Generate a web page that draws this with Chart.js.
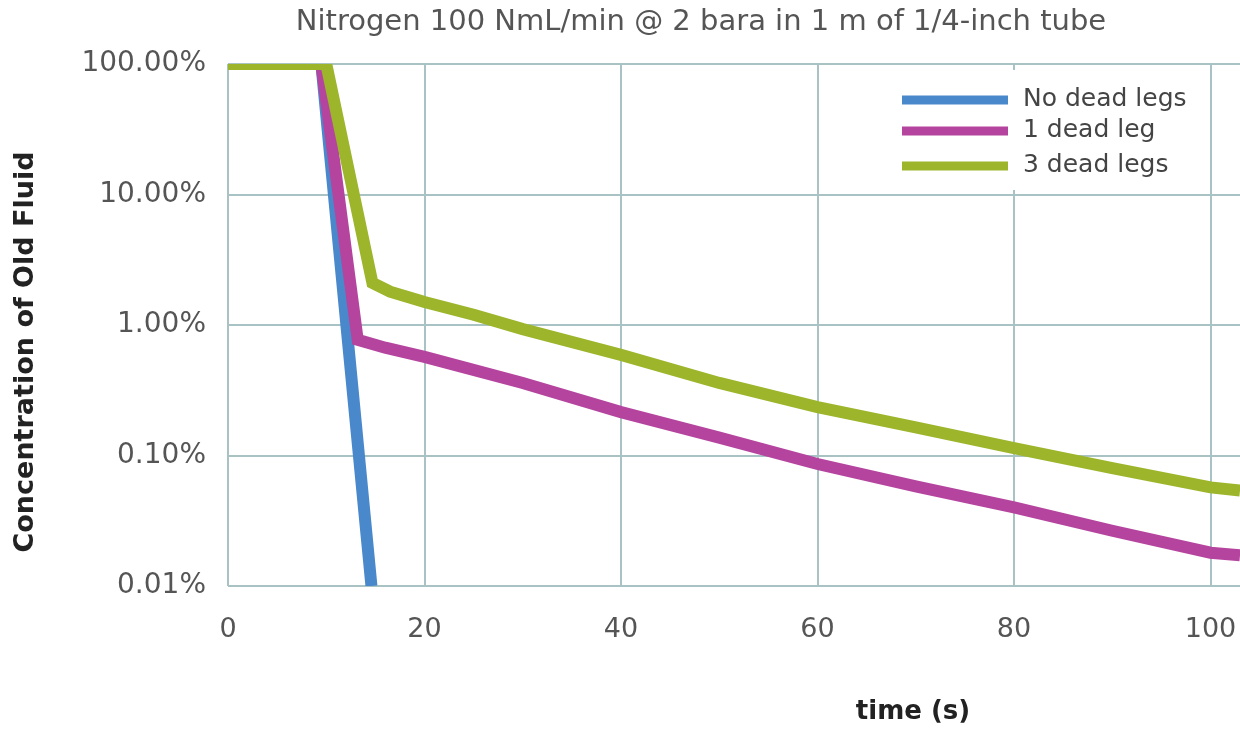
<!DOCTYPE html>
<html>
<head>
<meta charset="utf-8">
<script src="https://cdn.jsdelivr.net/npm/chart.js@4/dist/chart.umd.min.js"></script>
<style>
  html, body { margin: 0; padding: 0; background: #fff; }
  #wrap { width: 1240px; height: 732px; }
</style>
</head>
<body>
<div id="wrap"><canvas id="purgeChart" width="1240" height="732"></canvas></div>
<script>
// values (time in s, concentration in %)
var chartTitle = 'Nitrogen 100 NmL/min @ 2 bara in 1 m of 1/4-inch tube';
var seriesNames = ['No dead legs', '1 dead leg', '3 dead legs'];
var noDeadTime = [0, 9.5, 14.6];
var noDeadConc = [100, 100, 0.01];
var oneDeadTime = [0, 9.5, 13.2, 16, 20, 30, 40, 50, 60, 70, 80, 90, 100, 103];
var oneDeadConc = [100, 100, 0.77, 0.67, 0.57, 0.36, 0.215, 0.137, 0.086, 0.058, 0.040, 0.0265, 0.018, 0.0172];
var threeDeadTime = [0, 10, 14.7, 16.5, 20, 25, 30, 40, 50, 60, 70, 80, 90, 100, 103];
var threeDeadConc = [100, 100, 2.1, 1.8, 1.5, 1.2, 0.93, 0.59, 0.36, 0.235, 0.164, 0.114, 0.08, 0.057, 0.054];
var xTicks = [0, 20, 40, 60, 80, 100];
var yTicks = [0.01, 0.1, 1, 10, 100];

var lineColors = ['#4a88cc', '#b5449f', '#9cb52b'];
var gridColor = '#a9c3c5';
var font = '"DejaVu Sans", Verdana, sans-serif';

function toPoints(xs, ys) {
    return xs.map(function (x, i) { return { x: x, y: ys[i] }; });
}

// title, legend box and axis titles drawn where the reference has them
var extras = {
    id: 'extras',
    afterDraw: function (chart) {
        var c = chart.ctx;
        c.save();
        c.textBaseline = 'middle';
        c.textAlign = 'center';
        c.fillStyle = '#555';
        c.font = '29px ' + font;
        c.fillText(chartTitle, 701, 22);

        c.fillStyle = '#fff';
        c.fillRect(886, 70, 318, 120);
        var rows = [100, 131, 166];
        chart.data.datasets.forEach(function (ds, i) {
            c.strokeStyle = ds.borderColor;
            c.lineWidth = 9;
            c.beginPath();
            c.moveTo(902, rows[i]);
            c.lineTo(1008, rows[i]);
            c.stroke();
            c.fillStyle = '#444';
            c.font = '25px ' + font;
            c.textAlign = 'left';
            c.fillText(ds.label, 1023, rows[i] - 1);
        });
        c.fillStyle = '#222';
        c.font = 'bold 26px ' + font;
        c.textAlign = 'center';
        c.fillText('time (s)', 913, 712);
        c.translate(26, 352);
        c.rotate(-Math.PI / 2);
        c.font = 'bold 27px ' + font;
        c.fillText('Concentration of Old Fluid', 0, 0);
        c.restore();
    }
};

var ctx = document.getElementById('purgeChart').getContext('2d');
var myChart = new Chart(ctx, {
    type: 'line',
    data: {
        datasets: [{
            label: seriesNames[0],
            data: toPoints(noDeadTime, noDeadConc),
            borderColor: lineColors[0],
            borderWidth: 12,
            order: 2
        }, {
            label: seriesNames[1],
            data: toPoints(oneDeadTime, oneDeadConc),
            borderColor: lineColors[1],
            borderWidth: 12,
            order: 1
        }, {
            label: seriesNames[2],
            data: toPoints(threeDeadTime, threeDeadConc),
            borderColor: lineColors[2],
            borderWidth: 12,
            order: 0
        }]
    },
    options: {
        responsive: false,
        animation: false,
        layout: { padding: { top: 64 } },
        elements: {
            point: { radius: 0, hoverRadius: 0 },
            line: { tension: 0, fill: false }
        },
        plugins: {
            legend: { display: false },
            tooltip: { enabled: false },
            title: { display: false }
        },
        scales: {
            x: {
                type: 'linear',
                min: 0,
                max: 103,
                afterBuildTicks: function (axis) {
                    axis.ticks = xTicks.map(function (v) { return { value: v }; });
                },
                afterFit: function (axis) {
                    axis.height = 146;
                    axis.paddingRight = 0;
                },
                grid: { color: gridColor, lineWidth: 2, drawTicks: false },
                border: { display: false },
                ticks: {
                    color: '#555',
                    padding: 28,
                    maxRotation: 0,
                    font: { family: font, size: 27 }
                }
            },
            y: {
                type: 'logarithmic',
                min: 0.01,
                max: 100,
                afterBuildTicks: function (axis) {
                    axis.ticks = yTicks.map(function (v) { return { value: v }; });
                },
                afterFit: function (axis) {
                    axis.width = 228;
                    axis.paddingTop = 0;
                },
                grid: { color: gridColor, lineWidth: 2, drawTicks: false },
                border: { display: false },
                ticks: {
                    color: '#555',
                    padding: 22,
                    font: { family: font, size: 28 },
                    callback: function (v) { return Number(v).toFixed(2) + '%'; }
                }
            }
        }
    },
    plugins: [extras]
});
</script>
</body>
</html>
